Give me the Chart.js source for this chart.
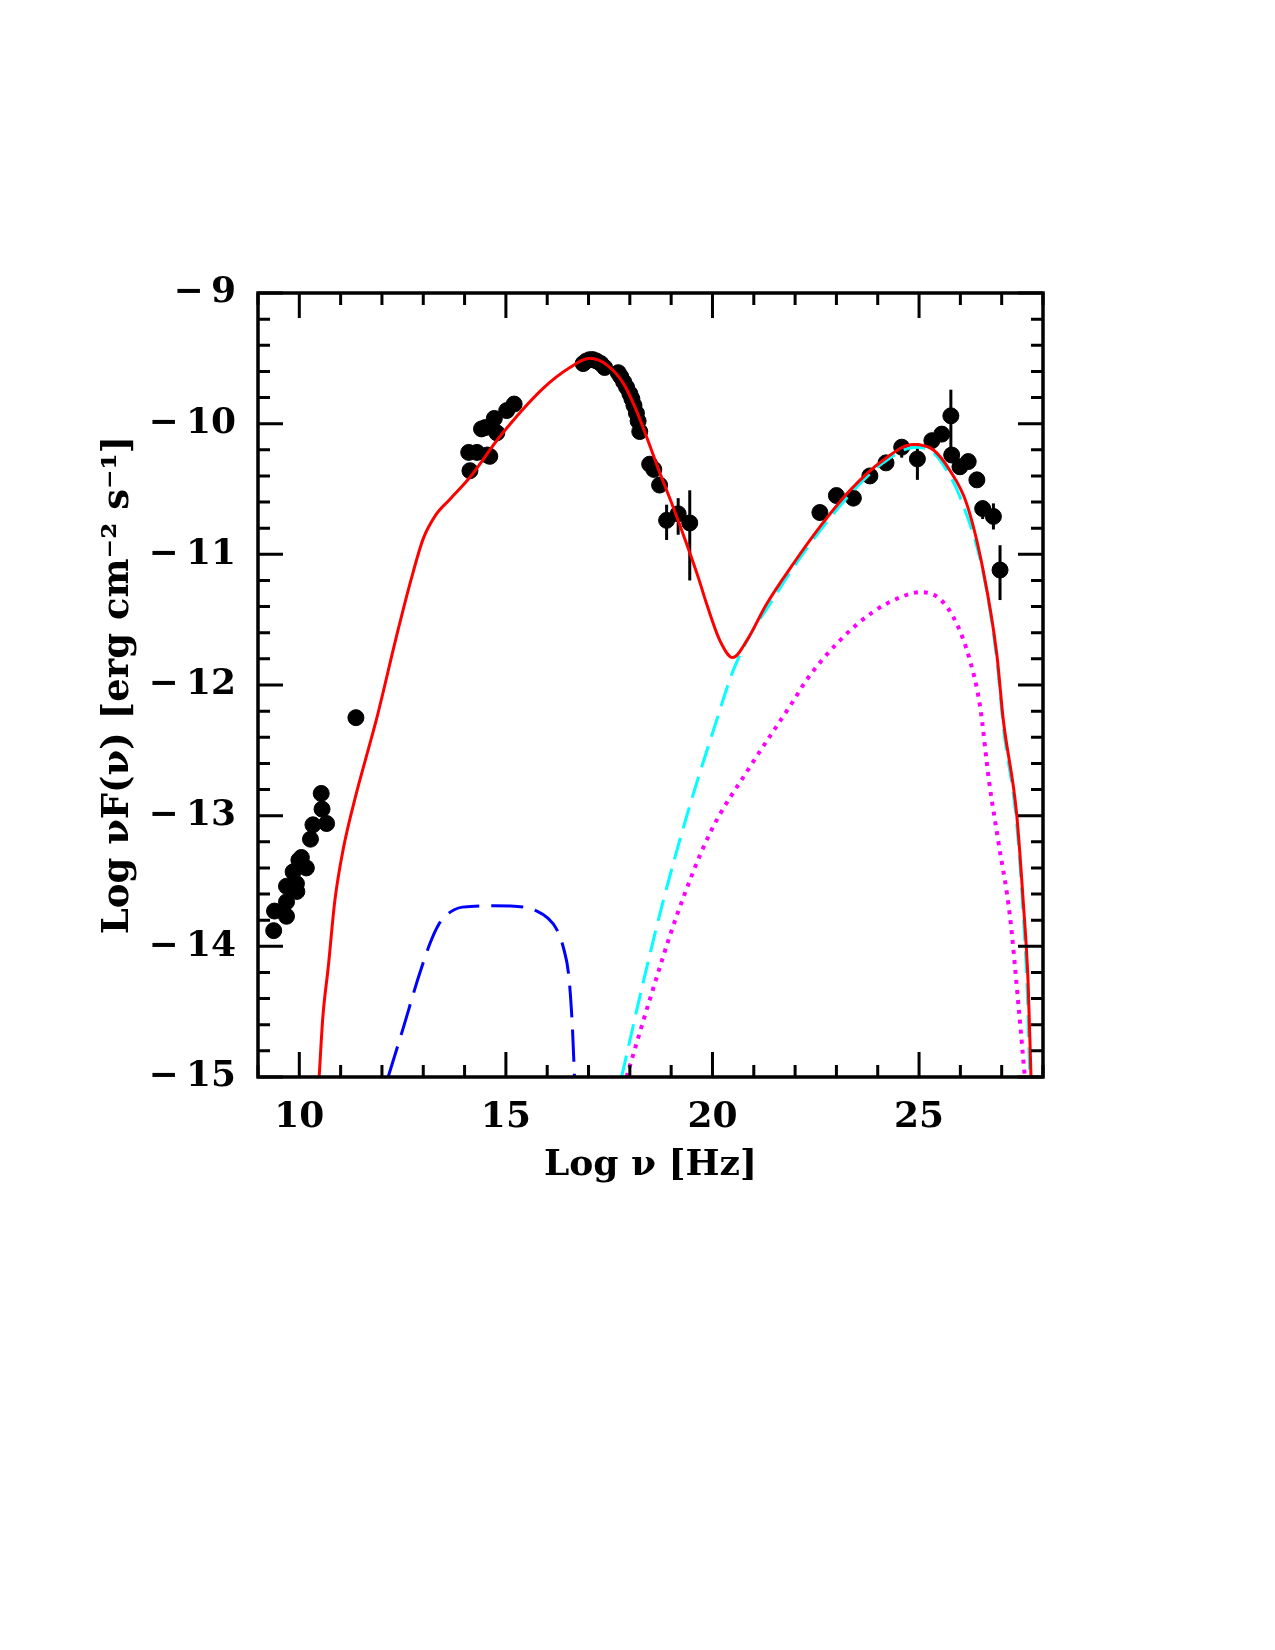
<!DOCTYPE html>
<html>
<head>
<meta charset="utf-8">
<script src="https://cdn.jsdelivr.net/npm/chart.js@4.4.1/dist/chart.umd.min.js"></script>
<style>
  body { margin: 0; background: #fff; }
  canvas { display: block; }
</style>
</head>
<body>
<canvas id="sed-chart" width="1275" height="1650"></canvas>
<script>
// observed points (log nu, log nuFnu)
var obsX = [9.38, 9.40, 9.69, 9.69, 9.69, 9.85, 9.93, 9.94, 9.99, 10.05, 10.17, 10.27, 10.33, 10.53, 10.55, 10.66,
    11.37,
    14.13, 14.10, 14.30, 14.41, 14.50, 14.55, 14.61, 14.72, 14.78, 15.02, 15.20,
    16.87, 16.95, 17.03, 17.11, 17.19, 17.30, 17.39, 17.72, 17.78, 17.85, 17.92, 18.00, 18.05, 18.10, 18.16, 18.20, 18.24,
    18.48, 18.58, 18.72, 18.89, 19.17, 19.45,
    22.60, 23.00, 23.41, 23.81, 24.20, 24.58, 24.96, 25.31, 25.55, 25.77, 25.79, 25.99, 26.19, 26.40, 26.54, 26.80, 26.96];
var obsY = [-13.88, -13.73, -13.77, -13.66, -13.54, -13.43, -13.52, -13.58, -13.34, -13.32, -13.40, -13.18, -13.07, -12.83, -12.95, -13.06,
    -12.25,
    -10.36, -10.22, -10.22, -10.04, -10.03, -10.24, -10.25, -9.96, -10.07, -9.90, -9.85,
    -9.54, -9.52, -9.51, -9.51, -9.52, -9.54, -9.57, -9.61, -9.64, -9.68, -9.72, -9.77, -9.81, -9.86, -9.92, -9.98, -10.06,
    -10.31, -10.35, -10.47, -10.74, -10.69, -10.76,
    -10.68, -10.55, -10.57, -10.40, -10.30, -10.18, -10.27, -10.13, -10.08, -9.94, -10.24, -10.33, -10.29, -10.43, -10.65, -10.71, -11.12];

// error bars
var errX  = [18.89, 19.17, 19.45, 24.58, 24.96, 25.77, 26.54, 26.80, 26.96];
var errLo = [-10.89, -10.85, -11.20, -10.26, -10.43, -10.25, -10.73, -10.81, -11.35];
var errHi = [-10.62, -10.57, -10.51, -10.13, -10.15, -9.74, -10.59, -10.61, -10.93];

// model: total (red)
var totalX = [10.48, 10.57, 10.70, 10.86, 11.06, 11.38, 11.62, 11.87, 12.35, 12.70, 13.00, 13.30, 13.64, 14.13, 14.85, 15.90, 16.55, 17.03,
    17.44, 17.84, 18.16, 18.44, 18.73, 19.05, 19.34, 19.66, 19.86, 20.18, 20.49, 20.83, 21.31, 21.96, 22.60, 23.33, 24.13,
    24.86, 25.34, 25.75, 26.15, 26.55, 26.88, 27.04, 27.36, 27.52, 27.64, 27.71];
var totalY = [-15.0, -14.54, -14.16, -13.65, -13.26, -12.83, -12.55, -12.26, -11.63, -11.20, -10.88, -10.70, -10.58, -10.41, -10.10, -9.73, -9.57, -9.50,
    -9.55, -9.69, -9.90, -10.13, -10.38, -10.64, -10.89, -11.18, -11.38, -11.66, -11.79, -11.66, -11.38, -11.07, -10.79, -10.51, -10.28,
    -10.16, -10.20, -10.36, -10.61, -11.12, -11.76, -12.27, -12.98, -13.65, -14.28, -15.0];

// model: external Compton (cyan dashed)
var ecX = [17.80, 18.32, 18.81, 19.37, 20.10, 20.50, 20.98, 21.31, 21.96, 22.60, 23.33, 24.13, 24.90, 25.34, 25.75, 25.99,
    26.55, 26.88, 27.04, 27.36, 27.52, 27.62, 27.68];
var ecY = [-15.0, -14.28, -13.65, -13.01, -12.27, -11.89, -11.58, -11.42, -11.10, -10.82, -10.54, -10.30, -10.18, -10.22, -10.40, -10.56,
    -11.14, -11.80, -12.32, -13.05, -13.75, -14.35, -15.0];

// model: SSC (magenta dotted)
var sscX = [17.92, 18.48, 19.13, 19.93, 20.90, 21.96, 22.28, 23.08, 23.89, 24.54, 25.02, 25.50, 25.91, 26.23, 26.47, 26.70,
    26.92, 27.20, 27.42, 27.56];
var sscY = [-15.0, -14.41, -13.77, -13.14, -12.63, -12.12, -11.96, -11.66, -11.44, -11.33, -11.29, -11.34, -11.53, -11.81, -12.15, -12.75,
    -13.20, -13.77, -14.50, -15.0];

// model: accretion disc (blue long dash)
var discX = [12.15, 12.52, 12.86, 13.16, 13.36, 13.55, 13.75, 13.95, 14.69, 15.45, 15.75, 16.00, 16.23, 16.40, 16.52, 16.61, 16.66];
var discY = [-15.0, -14.62, -14.26, -13.98, -13.84, -13.765, -13.72, -13.70, -13.69, -13.70, -13.73, -13.78, -13.87, -14.02, -14.22, -14.62, -15.0];

var xTicks = [10, 15, 20, 25];

function toXY(xs, ys){
    var out = [];
    for (var i = 0; i < xs.length; i++){
        out.push({x: xs[i], y: ys[i]});
    }
    return out;
}

var fontFamily = "'DejaVu Serif', serif";
var minus = '\u2212\u2009';

var frameAndTicks = {
    id: 'frameAndTicks',
    beforeDatasetsDraw: function(chart){
        var ctx = chart.ctx;
        var xs = chart.scales.x, ys = chart.scales.y;
        ctx.save();
        ctx.strokeStyle = '#000';
        ctx.lineWidth = 3;
        ctx.lineCap = 'butt';
        for (var i = 0; i < errX.length; i++){
            var px = xs.getPixelForValue(errX[i]);
            ctx.beginPath();
            ctx.moveTo(px, ys.getPixelForValue(errLo[i]));
            ctx.lineTo(px, ys.getPixelForValue(errHi[i]));
            ctx.stroke();
        }
        ctx.restore();
    },
    afterDraw: function(chart){
        var ctx = chart.ctx;
        var a = chart.chartArea;
        var xs = chart.scales.x, ys = chart.scales.y;
        ctx.save();
        ctx.strokeStyle = '#000';
        ctx.lineWidth = 3;
        ctx.beginPath();
        // x ticks, every 1, major every 5
        for (var v = 9; v <= 28; v++){
            var px = xs.getPixelForValue(v);
            var len = (v % 5 === 0) ? 25 : 12;
            ctx.moveTo(px, a.bottom); ctx.lineTo(px, a.bottom - len);
            ctx.moveTo(px, a.top); ctx.lineTo(px, a.top + len);
        }
        // y ticks, every 0.2, major every 1
        for (var k = 0; k <= 30; k++){
            var val = -15 + k * 0.2;
            var py = ys.getPixelForValue(val);
            var ylen = (k % 5 === 0) ? 25 : 12;
            ctx.moveTo(a.left, py); ctx.lineTo(a.left + ylen, py);
            ctx.moveTo(a.right, py); ctx.lineTo(a.right - ylen, py);
        }
        ctx.stroke();
        ctx.lineWidth = 3.5;
        ctx.strokeRect(a.left, a.top, a.right - a.left, a.bottom - a.top);
        ctx.restore();
    }
};

var ctxEl = document.getElementById('sed-chart');

new Chart(ctxEl, {
    type: 'scatter',
    data: {
        datasets: [
            {
                label: 'total',
                data: toXY(totalX, totalY),
                showLine: true,
                borderColor: '#ff0000',
                borderWidth: 3,
                pointRadius: 0,
                cubicInterpolationMode: 'monotone'
            },
            {
                label: 'EC',
                data: toXY(ecX, ecY),
                showLine: true,
                borderColor: '#00ffff',
                borderWidth: 3,
                borderDash: [22, 10],
                pointRadius: 0,
                cubicInterpolationMode: 'monotone'
            },
            {
                label: 'SSC',
                data: toXY(sscX, sscY),
                showLine: true,
                borderColor: '#ff00ff',
                borderWidth: 4,
                borderDash: [4, 6],
                pointRadius: 0,
                cubicInterpolationMode: 'monotone'
            },
            {
                label: 'disc',
                data: toXY(discX, discY),
                showLine: true,
                borderColor: '#0000ff',
                borderWidth: 3,
                borderDash: [32, 12],
                pointRadius: 0,
                cubicInterpolationMode: 'monotone'
            },
            {
                label: 'data',
                data: toXY(obsX, obsY),
                showLine: false,
                backgroundColor: '#000',
                borderColor: '#000',
                borderWidth: 1,
                pointRadius: 8
            }
        ]
    },
    options: {
        responsive: false,
        animation: false,
        devicePixelRatio: 1,
        layout: {
            padding: {left: 0, top: 293, right: 232, bottom: 423}
        },
        plugins: {
            legend: {display: false},
            tooltip: {enabled: false}
        },
        scales: {
            x: {
                type: 'linear',
                min: 9,
                max: 28,
                grid: {display: false, drawTicks: false},
                border: {display: false},
                afterFit: function(s){ s.height = 150; },
                afterBuildTicks: function(s){
                    s.ticks = xTicks.map(function(v){ return {value: v}; });
                },
                ticks: {
                    color: '#000',
                    padding: 19,
                    autoSkip: false,
                    maxRotation: 0,
                    font: {family: fontFamily, size: 36, weight: 'bold'},
                    callback: function(v){ return String(v); }
                },
                title: {
                    display: true,
                    text: 'Log \u03bd [Hz]',
                    color: '#000',
                    font: {family: fontFamily, size: 36, weight: 'bold'},
                    padding: {top: 0, bottom: 40}
                }
            },
            y: {
                type: 'linear',
                min: -15,
                max: -9,
                grid: {display: false, drawTicks: false},
                border: {display: false},
                afterFit: function(s){ s.width = 258; },
                ticks: {
                    color: '#000',
                    padding: 22,
                    stepSize: 1,
                    font: {family: fontFamily, size: 36, weight: 'bold'},
                    callback: function(v){ return v < 0 ? minus + String(Math.abs(v)) : String(v); }
                },
                title: {
                    display: true,
                    text: 'Log \u03bdF(\u03bd) [erg cm\u207b\u00b2 s\u207b\u00b9]',
                    color: '#000',
                    font: {family: fontFamily, size: 37, weight: 'bold'},
                    padding: {top: 96, bottom: 0}
                }
            }
        }
    },
    plugins: [frameAndTicks]
});
</script>
</body>
</html>
